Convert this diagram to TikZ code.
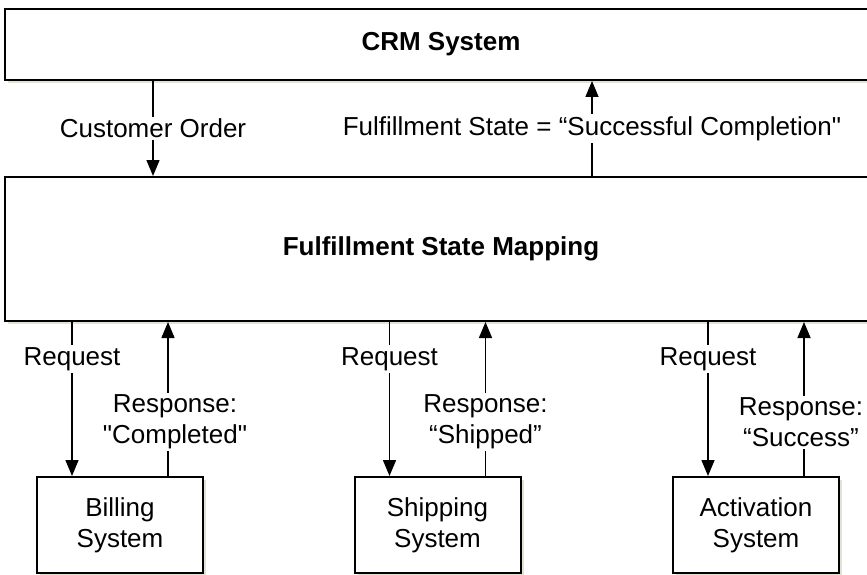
\documentclass[tikz,border=0pt]{standalone}
\usepackage{fontspec}
\setmainfont{Liberation Sans}
\usetikzlibrary{arrows.meta,shadows}
\definecolor{shadowgreen}{RGB}{205,210,180}

\begin{document}
\begin{tikzpicture}
  [x=1pt,y=-1pt,font=\fontsize{26}{31}\selectfont,
   every node/.style={inner sep=0pt},
   sysbox/.style={draw,line width=2pt,fill=white,align=center,
     drop shadow={shadow xshift=3pt,shadow yshift=-3pt,fill=shadowgreen,opacity=.6}},
   msg/.style={-{Triangle[length=16pt,width=13pt]},line width=1.5pt},
   lbl/.style={fill=white,align=center,inner sep=2pt}]
  \path[use as bounding box,clip] (0,0) rectangle (867,575);

  \node[sysbox,minimum width=872pt,minimum height=71pt] (crm) at (441,44.5) {\bfseries CRM System};
  \node[sysbox,minimum width=872pt,minimum height=144pt] (fsm) at (441,249) {\bfseries Fulfillment State Mapping};

  \node[sysbox,minimum width=166pt,minimum height=96pt] (billing) at (120,525) {Billing\\System};
  \node[sysbox,minimum width=166pt,minimum height=96pt] (shipping) at (437.5,525) {Shipping\\System};
  \node[sysbox,minimum width=166pt,minimum height=96pt] (activation) at (756,525) {Activation\\System};

  \coordinate (order) at (153,0);
  \coordinate (state) at (592,0);
  \draw[msg] (order |- crm.south) -- (order |- fsm.north) node[lbl,midway] {Customer Order};
  \draw[msg] (state |- fsm.north) -- (state |- crm.south) node[lbl,midway] {Fulfillment State = “Successful Completion\textquotedbl};

  \foreach \sys/\reply/\dx in {billing/\textquotedbl Completed\textquotedbl/7, shipping/“Shipped”/0, activation/“Success”/-3}{
    \coordinate (\sys-req) at ([xshift=-48pt]\sys.north);
    \coordinate (\sys-resp) at ([xshift=48pt]\sys.north);
    \draw[msg] (\sys-req |- fsm.south) -- (\sys-req) node[lbl,pos=.24] {Request};
    \draw[msg] (\sys-resp) -- (\sys-resp |- fsm.south) node[lbl,pos=.35,xshift=\dx pt] {Response:\\\reply};
  }
\end{tikzpicture}
\end{document}
